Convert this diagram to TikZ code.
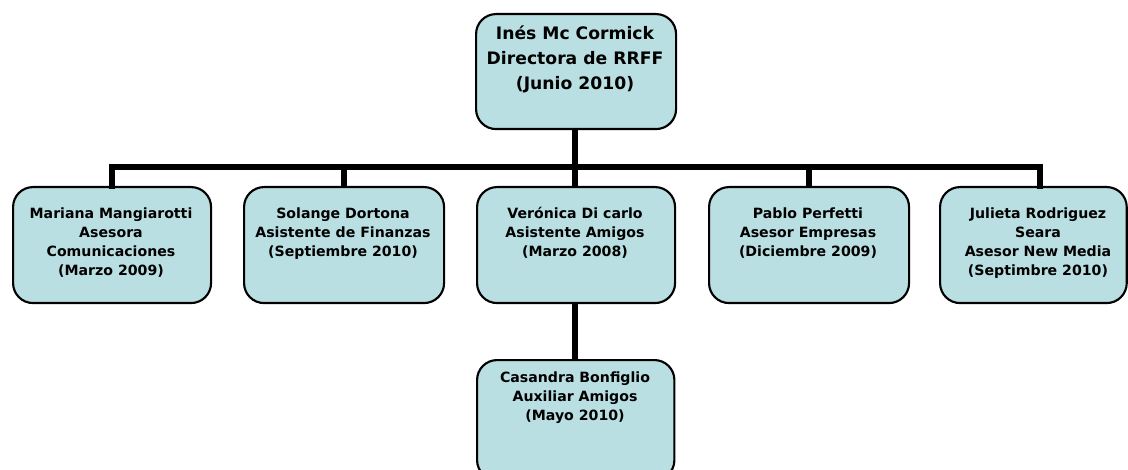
\documentclass[tikz,border=0pt]{standalone}
\usepackage{fontspec}
\setmainfont{DejaVu Sans}
\definecolor{boxfill}{HTML}{B9DFE2}
\begin{document}
\begin{tikzpicture}[x=0.75pt,y=-0.75pt,
  orgbox/.style={draw=black,line width=1.6pt,fill=boxfill,rounded corners=15pt,inner sep=0pt,anchor=north west},
  toptext/.style={anchor=north,align=center,inner sep=0pt,font=\bfseries\fontsize{12.9pt}{18.8pt}\selectfont},
  subtext/.style={anchor=north,align=center,inner sep=0pt,font=\bfseries\fontsize{10.6pt}{14.3pt}\selectfont},
  conn/.style={line width=4.6pt}]
\useasboundingbox (0,0) rectangle (1128,470);
% boxes
\node[orgbox,minimum width=150pt,minimum height=86.25pt] (top) at (475,13) {};
\node[orgbox,minimum width=148.5pt,minimum height=87pt] (b1) at (12,186) {};
\node[orgbox,minimum width=150pt,minimum height=87pt] (b2) at (243,186) {};
\node[orgbox,minimum width=148.5pt,minimum height=87pt] (b3) at (476,186) {};
\node[orgbox,minimum width=150pt,minimum height=87pt] (b4) at (708,186) {};
\node[orgbox,minimum width=140pt,minimum height=87pt] (b5) at (939,186) {};
\node[orgbox,minimum width=148pt,minimum height=90pt] (b6) at (476,359) {};
% texts
\node[toptext] (ttop) at (575,25) {Inés Mc Cormick\\Directora de RRFF\\(Junio 2010)};
\node[subtext] (t1) at (111,207) {Mariana Mangiarotti\\Asesora\\Comunicaciones\\(Marzo 2009)};
\node[subtext] (t2) at (343,207) {Solange Dortona\\Asistente de Finanzas\\(Septiembre 2010)};
\node[subtext] (t3) at (575,207) {Verónica Di carlo\\Asistente Amigos\\(Marzo 2008)};
\node[subtext] (t4) at (808,207) {Pablo Perfetti\\Asesor Empresas\\(Diciembre 2009)};
\node[subtext] (t5) at (1038,207) {Julieta Rodriguez\\Seara\\Asesor New Media\\(Septimbre 2010)};
\node[subtext] (t6) at (575,371) {Casandra Bonfiglio\\Auxiliar Amigos\\(Mayo 2010)};
% connectors
\coordinate (barL) at (112,167);
\coordinate (barR) at (1040,167);
\coordinate (barM) at (575,167);
\coordinate (d5) at (1040,186);
\draw[conn] (top.south -| barM) -- (barM);
\draw[conn,line cap=rect] (b1.north -| barL) -- (barL) -- (barR) -- (d5);
\draw[conn] (barM -| b2.north) -- (b2.north);
\draw[conn] (barM) -- (barM |- b3.north);
\draw[conn] (barM -| b4.north) -- (b4.north);
\draw[conn] (b3.south -| barM) -- (b6.north -| barM);
\end{tikzpicture}
\end{document}
